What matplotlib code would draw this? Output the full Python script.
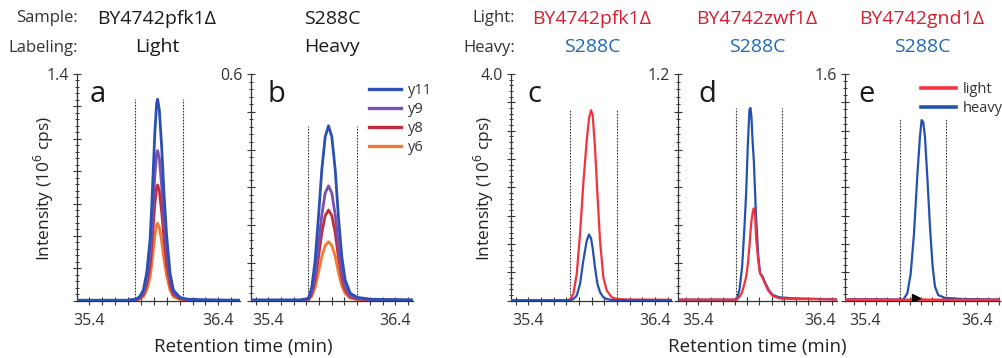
import matplotlib
matplotlib.use("Agg")
import matplotlib.pyplot as plt
from matplotlib.ticker import MultipleLocator
from matplotlib.lines import Line2D

plt.rcParams['font.family'] = ['Open Sans', 'DejaVu Sans']
plt.rcParams['mathtext.fontset'] = 'custom'
plt.rcParams['mathtext.rm'] = 'Open Sans'

# ---------------- data ----------------
# panel a (BY4742pfk1Δ, light) transitions
t_a = [35.305, 35.50, 35.70, 35.767, 35.795, 35.819, 35.845, 35.871, 35.884, 35.896, 35.908, 35.922,
       35.930, 35.943, 35.961, 35.979, 36.0, 36.026, 36.051, 36.103, 36.155, 36.25, 36.40, 36.568]
a_y11 = [.003, .003, .003, .01, .03, .066, .17, .375, .58, .807, 1.034, 1.219,
         1.244, 1.178, .951, .663, .395, .17, .066, .02, .01, .006, .004, .003]
a_y9 = [.002, .002, .002, .007, .022, .049, .127, .279, .432, .601, .770, .908,
        .927, .878, .708, .494, .294, .127, .049, .015, .007, .004, .003, .002]
a_y8 = [.002, .002, .002, .006, .017, .038, .098, .216, .334, .464, .595, .701,
        .715, .677, .547, .381, .227, .098, .038, .012, .006, .003, .002, .002]
a_y6 = [.001, .001, .001, .004, .012, .025, .065, .144, .223, .310, .397, .468,
        .478, .452, .365, .255, .152, .065, .025, .008, .004, .002, .002, .001]

# panel b (S288C, heavy) transitions
t_b = [35.263, 35.45, 35.65, 35.716, 35.743, 35.769, 35.795, 35.821, 35.848, 35.874,
       35.90, 35.927, 35.952, 35.979, 36.005, 36.045, 36.098, 36.20, 36.35, 36.54]
b_y11 = [.002, .002, .002, .006, .037, .108, .222, .346, .434, .463,
         .434, .346, .222, .116, .055, .02, .009, .004, .003, .002]
b_y9 = [.001, .001, .001, .004, .024, .071, .146, .227, .285, .304,
        .285, .227, .146, .076, .036, .013, .006, .003, .002, .001]
b_y8 = [.001, .001, .001, .003, .019, .056, .115, .179, .225, .240,
        .225, .179, .115, .060, .028, .010, .005, .002, .002, .001]
b_y6 = [.001, .001, .001, .002, .012, .036, .075, .117, .146, .156,
        .146, .117, .075, .039, .019, .007, .003, .001, .001, .001]

# panel c (light BY4742pfk1Δ / heavy S288C)
t_c = [35.267, 35.50, 35.70, 35.73, 35.755, 35.782, 35.808, 35.834, 35.861, 35.879, 35.895,
       35.908, 35.926, 35.945, 35.966, 35.992, 36.019, 36.058, 36.098, 36.20, 36.35, 36.534]
c_light = [.01, .01, .01, .02, .118, .47, 1.18, 2.07, 2.83, 3.22, 3.36,
           3.27, 2.71, 1.89, 1.06, .41, .18, .06, .03, .02, .02, .015]
c_heavy = [.005, .005, .005, .008, .03, .088, .295, .708, 1.06, 1.168, 1.10,
           .92, .59, .30, .15, .06, .03, .012, .008, .006, .005, .005]

# panel d (light BY4742zwf1Δ / heavy S288C)
t_d = [35.25, 35.50, 35.70, 35.715, 35.737, 35.759, 35.778, 35.792, 35.805, 35.819, 35.827, 35.835,
       35.846, 35.855, 35.866, 35.873, 35.89, 35.906, 35.928, 35.95, 35.977, 36.01, 36.065, 36.17,
       36.34, 36.53]
d_light = [.006, .006, .006, .006, .02, .045, .09, .127, .19, .29, .36, .42,
           .47, .489, .445, .339, .215, .145, .118, .085, .05, .025, .012, .009, .008, .006]
d_heavy = [.005, .005, .005, .005, .057, .18, .39, .57, .815, 1.01, 1.02, .975,
           .83, .74, .56, .445, .25, .145, .127, .092, .057, .03, .018, .013, .01, .007]

# panel e (light BY4742gnd1Δ / heavy S288C)
t_e = [35.22, 35.50, 35.70, 35.743, 35.779, 35.809, 35.839, 35.868, 35.892, 35.907, 35.922,
       35.937, 35.958, 35.982, 36.006, 36.027, 36.056, 36.116, 36.28, 36.45, 36.61]
e_light = [.006, .006, .005, .005, .005, .006, .006, .006, .007, .007, .007,
           .007, .006, .006, .006, .006, .005, .005, .005, .005, .005]
e_heavy = [.01, .01, .008, .008, .052, .19, .475, .875, 1.157, 1.275, 1.26,
           1.157, .875, .522, .24, .099, .04, .02, .012, .01, .008]
e_mark_t = [35.857]
e_mark_y = [0.017]

# integration boundaries and their heights
bounds = {'a': [35.756, 36.129], 'b': [35.716, 36.10], 'c': [35.73, 36.10],
          'd': [35.71, 36.09], 'e': [35.713, 36.125]}
bound_h = {'a': 1.244, 'b': 0.463, 'c': 3.36, 'd': 1.02, 'e': 1.287}

y_max = {'a': 1.4, 'b': 0.6, 'c': 4.0, 'd': 1.2, 'e': 1.6}
y_major = {'a': 0.2, 'b': 0.1, 'c': 0.5, 'd': 0.2, 'e': 0.2}
y_minor = {'a': 0.04, 'b': 0.02, 'c': 0.1, 'd': 0.04, 'e': 0.05}
y_top_label = {'a': '1.4', 'b': '0.6', 'c': '4.0', 'd': '1.2', 'e': '1.6'}

x_ticks = [35.2, 35.3, 35.4, 35.5, 35.6, 35.7, 35.8, 35.9, 36.0, 36.1, 36.2, 36.3, 36.4, 36.5, 36.6]
x_tick_labels = ['', '', '35.4', '', '', '', '', '', '', '', '', '', '36.4', '', '']

transitions = ['y11', 'y9', 'y8', 'y6']
trans_colors = ['#2b4fb3', '#7b4fae', '#c12f3d', '#f07a36']
light_color = '#f2333f'
heavy_color = '#2451b0'

header_row1 = ['BY4742pfk1Δ', 'S288C', 'BY4742pfk1Δ', 'BY4742zwf1Δ', 'BY4742gnd1Δ']
header_row2 = ['Light', 'Heavy', 'S288C', 'S288C', 'S288C']

# ---------------- layout ----------------
W, H = 1003, 358
fig = plt.figure(figsize=(W / 100, H / 100), dpi=100)
TOP, BOT = 74, 300.7

def px_axes(x0, x1):
    return fig.add_axes([x0 / W, 1 - BOT / H, (x1 - x0) / W, (BOT - TOP) / H])

panel_px = {'a': (77, 240), 'b': (251, 413), 'c': (511.5, 672), 'd': (678, 837), 'e': (845, 1000)}
panel_xlim = {'a': (35.305, 36.568), 'b': (35.263, 36.54), 'c': (35.267, 36.534),
              'd': (35.233, 36.537), 'e': (35.22, 36.61)}
letter_x = {'a': 90, 'b': 268, 'c': 527, 'd': 698, 'e': 858}

axes = {}
for k in 'abcde':
    ax = px_axes(*panel_px[k])
    axes[k] = ax
    ax.set_ylim(0, y_max[k])
    for s in ('top', 'right'):
        ax.spines[s].set_visible(False)
    for s in ('left', 'bottom'):
        ax.spines[s].set_color('#333333')
        ax.spines[s].set_linewidth(0.9)
    ax.set_xticks(x_ticks)
    ax.set_xticklabels(x_tick_labels)
    ax.set_xlim(*panel_xlim[k])
    n = int(round(y_max[k] / y_major[k]))
    yt = [y_major[k] * i for i in range(n + 1)]
    ax.set_yticks(yt)
    ax.set_yticklabels([''] * n + [y_top_label[k]])
    ax.yaxis.set_minor_locator(MultipleLocator(y_minor[k]))
    ax.tick_params(which='major', direction='inout', length=6, width=0.8, color='#333333',
                   labelsize=11.5, labelcolor='#333333')
    ax.tick_params(axis='x', which='major', length=6, pad=6)
    ax.tick_params(axis='y', which='major', pad=3)
    ax.tick_params(which='minor', direction='inout', length=3.5, width=0.7, color='#333333')
    ax.patch.set_alpha(0)
    ax.vlines(bounds[k], 0, bound_h[k], colors='#333333', linestyles=(0, (1.5, 1.2)), linewidth=0.8,
              zorder=1)
    fig.text(letter_x[k] / W, 1 - 102 / H, k, fontsize=21, color='#1a1a1a', va='baseline', ha='left')

# panels a and b
lw_t = 2.0
for ser, col in zip([a_y6, a_y8, a_y9, a_y11], trans_colors[::-1]):
    axes['a'].plot(t_a, ser, color=col, lw=lw_t, solid_joinstyle='round', zorder=3)
for ser, col in zip([b_y6, b_y8, b_y9, b_y11], trans_colors[::-1]):
    axes['b'].plot(t_b, ser, color=col, lw=lw_t, solid_joinstyle='round', zorder=3)

handles = [Line2D([0], [0], color=c, lw=2.4) for c in trans_colors]
leg = axes['b'].legend(handles, transitions, loc='upper left', bbox_to_anchor=(369 / W, 1 - 83 / H),
                       bbox_transform=fig.transFigure, frameon=False, fontsize=10.5,
                       handlelength=2.2, handletextpad=0.5, labelspacing=0.28, borderpad=0,
                       borderaxespad=0)
for t in leg.get_texts():
    t.set_color('#333333')

# panels c, d, e
lw_p = 1.6
axes['c'].plot(t_c, c_light, color=light_color, lw=lw_p, zorder=3, solid_joinstyle='round')
axes['c'].plot(t_c, c_heavy, color=heavy_color, lw=lw_p, zorder=3, solid_joinstyle='round')
axes['d'].plot(t_d, d_heavy, color=heavy_color, lw=lw_p, zorder=3, solid_joinstyle='round')
axes['d'].plot(t_d, d_light, color=light_color, lw=lw_p, zorder=3, solid_joinstyle='round')
axes['e'].plot(t_e, e_heavy, color=heavy_color, lw=lw_p, zorder=3, solid_joinstyle='round')
axes['e'].plot(t_e, e_light, color=light_color, lw=2.0, zorder=3)
axes['e'].plot(e_mark_t, e_mark_y, marker='>', color='black', markersize=6, linestyle='none', zorder=4)

handles2 = [Line2D([0], [0], color=light_color, lw=2.6), Line2D([0], [0], color=heavy_color, lw=2.6)]
leg2 = axes['e'].legend(handles2, ['light', 'heavy'], loc='upper left', bbox_to_anchor=(921 / W, 1 - 82 / H),
                        bbox_transform=fig.transFigure, frameon=False, fontsize=10.5,
                        handlelength=2.4, handletextpad=0.45, labelspacing=0.25, borderpad=0,
                        borderaxespad=0)
for t in leg2.get_texts():
    t.set_color('#333333')

# axis labels
ylab = r'Intensity (10$^{\mathregular{6}}$ cps)'
fig.text(44 / W, 1 - 188 / H, ylab, rotation=90, ha='center', va='center', fontsize=12.5, color='#222222')
fig.text(483.5 / W, 1 - 188 / H, ylab, rotation=90, ha='center', va='center', fontsize=12.5, color='#222222')
fig.text(243 / W, 1 - 347 / H, 'Retention time (min)', ha='center', va='center', fontsize=13.5, color='#222222')
fig.text(757 / W, 1 - 347 / H, 'Retention time (min)', ha='center', va='center', fontsize=13.5, color='#222222')

# header
row1_y, row2_y = 18.5, 47.5
fig.text(78 / W, 1 - row1_y / H, 'Sample:', ha='right', va='center', fontsize=12, color='#333333')
fig.text(78 / W, 1 - row2_y / H, 'Labeling:', ha='right', va='center', fontsize=12, color='#333333')
fig.text(515 / W, 1 - row1_y / H, 'Light:', ha='right', va='center', fontsize=12, color='#333333')
fig.text(515 / W, 1 - row2_y / H, 'Heavy:', ha='right', va='center', fontsize=12, color='#333333')
hx = [157, 332, 592, 757, 922]
c1 = ['#1a1a1a', '#1a1a1a', '#d42030', '#d42030', '#d42030']
c2 = ['#1a1a1a', '#1a1a1a', '#1f6ab8', '#1f6ab8', '#1f6ab8']
for x, s1, s2, col1, col2 in zip(hx, header_row1, header_row2, c1, c2):
    fig.text(x / W, 1 - row1_y / H, s1, ha='center', va='center', fontsize=14, color=col1)
    fig.text(x / W, 1 - row2_y / H, s2, ha='center', va='center', fontsize=14, color=col2)

fig.savefig('out.png', dpi=100)
